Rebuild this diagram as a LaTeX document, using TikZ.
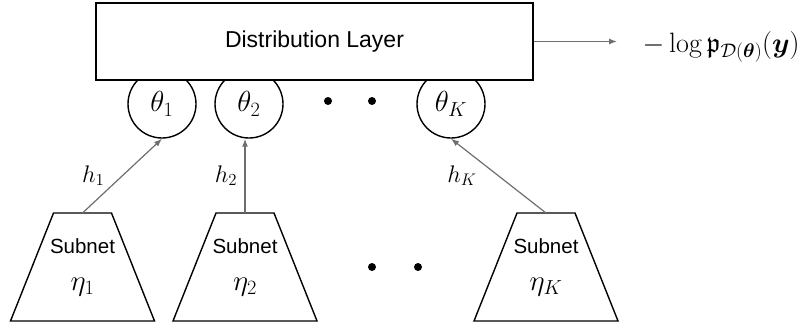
\RequirePackage{fix-cm}
\documentclass[tikz,border=0pt]{standalone}
\usepackage{amsmath,amssymb}
\usepackage{fontspec}
\newfontfamily\arialfont{Liberation Sans}
\usepackage{xcolor}
\usepackage{tikz}
\usetikzlibrary{arrows.meta}
\definecolor{linkgray}{RGB}{110,110,110}

\begin{document}
\begin{tikzpicture}[x=1pt, y=-1pt, line width=1.4pt,
  param/.style={shape=circle, draw, inner sep=0pt, minimum size=68pt, font=\fontsize{29}{34}\selectfont},
  subnet/.style={align=center, inner sep=0pt, font=\arialfont\fontsize{20.5}{37}\selectfont},
  link/.style={draw=linkgray, line width=1.2pt, -{Latex[length=8pt, width=6pt]}},
  hlab/.style={font=\fontsize{24}{28}\selectfont}]
\useasboundingbox (0,0) rectangle (805,325);

\foreach \i/\x in {1/162, 2/249, K/451}
 { \node (th\i) at (\x, 104) [param] {$\theta_\i$} ; }
\foreach \x in {328, 372}
 { \fill (\x, 101) circle (4pt) ; }

\node (dist) at (314.5, 41.5) [shape=rectangle, draw, fill=white, minimum width=437pt, minimum height=77pt,
  font=\arialfont\fontsize{23}{27}\selectfont] {Distribution Layer} ;
\node (out) at (642, 52) [anchor=base west, inner sep=0pt, font=\fontsize{28}{33}\selectfont]
  {$-\log \mathfrak{p}_{\mathcal{D}(\boldsymbol{\theta})}(\boldsymbol{y})$} ;
\draw [link, shorten >=25pt] (dist.east) -- (dist.east -| out.west) ;

\foreach \i/\x in {1/82.5, 2/245, K/546}
 { \coordinate (sub\i) at (\x, 213) ;
   \draw (\x-29, 213) -- (\x+29, 213) -- (\x+72, 321) -- (\x-72, 321) -- cycle ;
   \node (net\i) at (\x, 267) [subnet] {Subnet\\ \fontsize{29}{37}\selectfont$\eta_\i$} ; }
\foreach \x in {372, 418}
 { \fill (\x, 267) circle (4pt) ; }

\draw [link] (sub1) -- (th1.south) node [midway, left=14pt, hlab] {$h_1$} ;
\draw [link] (sub2) -- (sub2 |- th2.south) node [midway, left=4pt, hlab] {$h_2$} ;
\draw [link] (subK) -- (thK.south) node [midway, left=18pt, hlab] {$h_K$} ;
\end{tikzpicture}
\end{document}
